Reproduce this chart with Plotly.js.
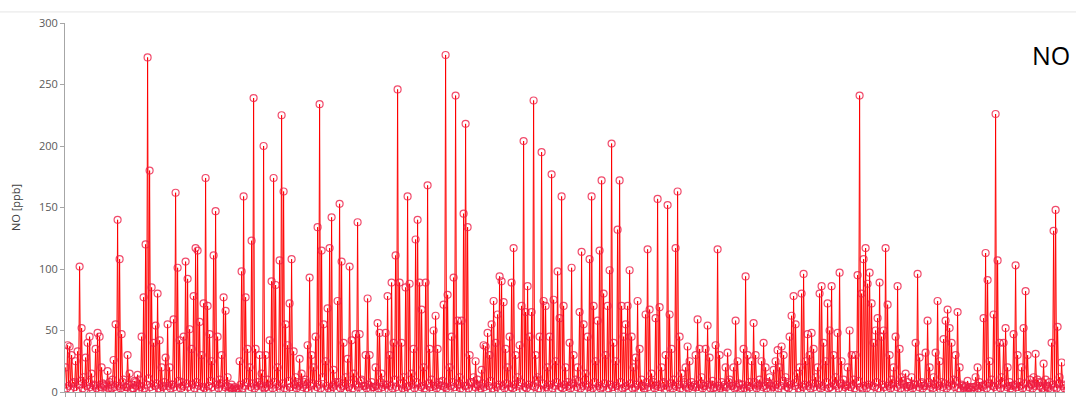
<!DOCTYPE html>
<html>
<head>
<meta charset="utf-8">
<script src="https://cdn.plot.ly/plotly-3.0.1.min.js"></script>
<style>html,body{margin:0;padding:0;background:#fff;}#chart{width:1076px;height:409px;}</style>
</head>
<body>
<div id="chart"></div>
<script>
// Episode readings of NO [ppb] (every other hour)
var segA = [20,38,37,30,8,25,33,102,52,12,
  28,40,45,15,5,35,48,45,20,6,
  4,17,8,3,26,55,140,108,47,10,
  4,30,15,6,3,8,14,10,45,77,
  120,272,180,85,40,54,80,42,20,5,
  28,55,20,6,59,162,101,42,8,45,
  106,92,51,35,78,117,115,57,30,72,
  174,70,47,25,111,147,45,10,30,77,
  66,12,4,6,3,2,3,25,98,159,
  77,35,20,123,239,35,8,30,15,200];
var segB = [30,10,42,90,174,87,20,107,225,163,
  55,38,72,108,33,12,8,27,15,6,
  10,38,93,30,20,45,134,234,115,55,
  25,68,117,142,18,8,74,153,106,40,
  12,27,102,42,15,47,138,47,10,5,
  30,76,30,8,4,20,56,48,15,6,
  48,78,30,89,40,111,246,89,40,12,
  85,159,88,15,35,124,140,89,67,20,
  89,168,35,10,50,62,35,8,5,71,
  274,79,20,45,93,241,58,12,58,145];
var segC = [218,134,30,8,12,25,10,5,18,38,
  37,48,30,55,74,40,63,94,90,73,
  35,20,45,89,117,30,12,38,70,204,
  65,86,45,65,237,30,12,45,195,74,
  70,20,45,177,75,25,98,60,159,70,
  20,8,40,101,30,10,20,65,114,55,
  15,45,108,159,70,25,58,115,172,80,
  30,70,99,202,40,25,132,172,70,45,
  55,70,99,45,20,28,74,35,10,5,
  63,116,67,15,8,60,157,69,20,8];
var segD = [30,152,63,35,10,117,163,45,15,6,
  20,37,25,8,4,30,59,35,12,5,
  35,54,28,6,3,38,116,30,8,4,
  20,32,10,5,20,58,25,6,3,35,
  94,30,8,25,56,30,5,10,25,40,
  20,8,12,5,18,25,34,20,37,30,
  12,8,45,62,78,55,15,20,80,96,
  25,47,30,48,35,12,20,80,86,40,
  25,72,50,86,30,12,48,97,25,10,
  6,20,50,30,10,30,95,241,80,108];
var segE = [117,88,97,72,40,50,60,89,45,50,
  117,71,30,10,20,45,86,35,12,6,
  15,8,5,12,6,40,96,28,8,5,
  32,58,20,6,12,32,74,25,8,43,
  58,67,52,40,10,30,65,20,6,3,
  5,9,4,2,4,12,20,8,5,60,
  113,91,25,10,63,226,107,40,12,40,
  52,20,8,5,47,103,30,8,20,52,
  82,30,10,6,12,31,10,5,8,23,
  10,4,8,40,131,148,53,12,24,6];

// Background (in-between hour) readings of NO [ppb], the dense low band
var baseA = [3,5,2,7,4,1,6,9,3,2, 5,8,4,2,6,3,1,4,7,5, 2,3,6,10,4,2,5,3,8,1, 4,6,2,3,9,5,2,4,1,3,
  6,11,4,2,5,7,3,1,4,8, 2,5,3,6,4,2,9,3,5,1, 7,4,2,6,3,8,5,2,4,3, 1,5,9,4,2,6,3,7,2,4,
  5,1,3,2,4,1,2,6,3,5, 8,2,4,7,3,5,2,6,4,3];
var baseB = [4,2,6,3,8,1,5,2,7,3, 2,9,4,1,6,3,5,2,4,8, 3,1,5,7,2,4,6,3,12,2, 5,3,1,4,6,2,8,3,5,2,
  1,4,7,3,2,6,4,9,2,5, 3,6,2,4,1,5,3,8,4,2, 6,2,5,3,10,4,2,7,3,1, 4,5,2,6,3,8,2,4,5,3,
  2,7,4,1,5,3,6,2,9,4, 3,2,5,8,4,1,6,3,2,5];
var baseC = [5,3,8,2,4,6,1,3,7,4, 2,5,9,3,1,4,6,2,5,3, 7,2,4,3,6,1,5,8,2,4, 3,6,2,5,4,10,3,2,7,1,
  4,2,6,3,5,8,2,4,3,6, 1,5,3,7,2,4,9,3,5,2, 6,4,1,3,8,2,5,3,4,7, 2,3,6,4,1,5,2,8,3,4,
  5,2,7,3,4,6,2,1,5,3, 8,4,2,6,3,5,1,4,7,2];
var baseD = [2,4,7,3,5,1,6,3,2,8, 4,3,5,2,6,4,1,7,3,5, 2,6,3,9,4,2,5,3,1,6, 4,8,2,5,3,4,7,2,6,3,
  1,5,4,2,8,3,6,2,4,5, 3,7,2,4,1,6,3,5,9,2, 4,3,6,2,5,8,3,1,4,6, 2,5,3,7,4,2,6,3,5,1,
  8,3,4,2,6,5,3,7,2,4, 5,1,4,6,3,2,9,4,3,5];
var baseE = [3,6,2,5,4,8,3,1,6,4, 2,5,3,7,2,4,6,3,9,2, 4,1,5,3,6,2,4,7,3,5, 2,8,4,3,6,1,5,2,4,7,
  3,5,2,6,4,9,3,2,5,4, 1,3,2,4,2,5,3,1,4,6, 3,7,2,5,4,2,6,3,8,2, 4,5,3,2,6,4,1,5,3,7,
  2,4,6,3,5,2,8,4,3,1, 5,3,2,6,4,3,7,2,5,3];

var yTickVals = [0,50,100,150,200,250,300];
var yTitle = "NO [ppb]";
var panelLabel = "NO";

var episode = segA.concat(segB, segC, segD, segE);
var background = baseA.concat(baseB, baseC, baseD, baseE);
var noValues = [];
for (var i = 0; i < episode.length; i++) {
  noValues.push(episode[i]);
  if (i < background.length) noValues.push(background[i]);
}
var hourIndex = noValues.map(function(_, k){ return k; });

var trace = {
  x: hourIndex,
  y: noValues,
  type: 'scatter',
  mode: 'lines+markers',
  line: {color: '#ff0000', width: 1},
  marker: {symbol: 'circle-open', size: 7, color: 'rgba(238,30,70,0.8)', line: {width: 1.2, color: 'rgba(238,30,70,0.8)'}},
  hoverinfo: 'x+y',
  showlegend: false
};

var layout = {
  width: 1076, height: 409,
  margin: {l: 65, r: 11, t: 23, b: 17},
  paper_bgcolor: '#ffffff',
  plot_bgcolor: '#ffffff',
  font: {family: 'Open Sans, Liberation Sans, sans-serif', color: '#595959', size: 11},
  xaxis: {
    range: [-0.6, 999.4],
    showgrid: false, zeroline: false,
    showline: true, linecolor: '#a6a6a6', linewidth: 1,
    ticks: 'outside', ticklen: 4, tickcolor: '#a6a6a6',
    tick0: 0, dtick: 10,
    showticklabels: false
  },
  yaxis: {
    range: [0, 300],
    tickvals: yTickVals,
    showgrid: false, zeroline: false,
    showline: true, linecolor: '#a6a6a6', linewidth: 1,
    ticks: 'outside', ticklen: 4, tickcolor: '#a6a6a6',
    tickfont: {size: 11, color: '#595959'},
    title: {text: yTitle, font: {size: 11, color: '#404040'}, standoff: 16}
  },
  annotations: [{
    text: panelLabel, xref: 'paper', yref: 'paper',
    x: 1.007, y: 0.913, xanchor: 'right', yanchor: 'middle',
    showarrow: false, font: {size: 25, color: '#000000', family: 'Open Sans, sans-serif'}
  }],
  shapes: [{
    type: 'line', xref: 'paper', yref: 'paper',
    x0: -0.065, x1: 1.011, y0: 1.03, y1: 1.03,
    line: {color: '#e6e6e6', width: 1}
  }]
};

Plotly.newPlot('chart', [trace], layout, {displayModeBar: false, staticPlot: true});
</script>
</body>
</html>
